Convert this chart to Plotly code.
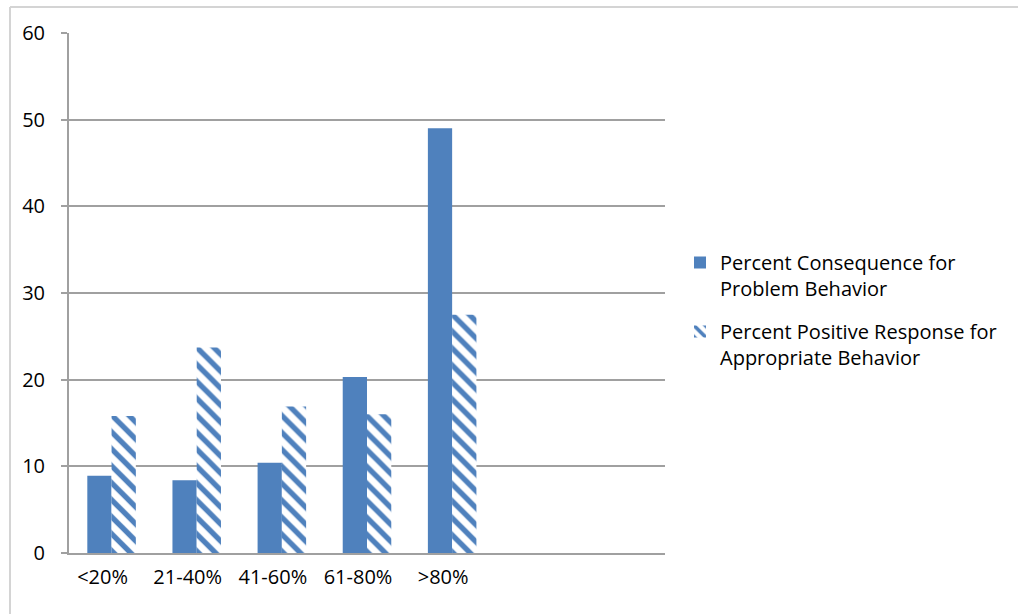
import plotly.graph_objects as go

# Share of classrooms by rate band
bands = ["<20%", "21-40%", "41-60%", "61-80%", ">80%"]
consequence = [8.9, 8.4, 10.4, 20.3, 49.0]
positive = [15.8, 23.7, 16.9, 16.0, 27.5]
y_ticks = [0, 10, 20, 30, 40, 50, 60]

BLUE = "#4F81BD"
GRID = "#A0A0A0"
FONT = "Open Sans"
FSIZE = 20

x_pos = list(range(len(bands)))

fig = go.Figure()
fig.add_trace(go.Bar(
    x=x_pos, y=consequence,
    name="Percent Consequence for<br>Problem Behavior",
    legendgroup="a",
    marker=dict(color=BLUE, line=dict(width=0)),
))
fig.add_trace(go.Bar(
    x=x_pos, y=positive,
    name="Percent Positive Response for<br>Appropriate Behavior",
    legendgroup="b",
    marker=dict(
        color="white",
        line=dict(width=0),
        pattern=dict(shape="\\", fgcolor=BLUE, bgcolor="white",
                     size=12, solidity=0.45, fillmode="replace",
                     fgopacity=1),
    ),
))

# Frame line around the chart area
W, H = 1018, 614
L, R, T, B = 69, 353, 33, 61
pw, ph = W - L - R, H - T - B

def px_x(v):
    return (v - L) / pw

def px_y(v):
    return (H - B - v) / ph

fig.add_shape(type="line", xref="paper", yref="paper",
              x0=px_x(10), x1=px_x(10), y0=px_y(7), y1=px_y(630),
              line=dict(color="#D4D4D4", width=2), layer="below")
fig.add_shape(type="line", xref="paper", yref="paper",
              x0=px_x(10), x1=px_x(1030), y0=px_y(7), y1=px_y(7),
              line=dict(color="#D4D4D4", width=2), layer="below")

fig.update_layout(
    width=W, height=H,
    margin=dict(l=L, r=R, t=T, b=B, pad=0),
    paper_bgcolor="white", plot_bgcolor="white",
    barmode="group", bargap=0.43, bargroupgap=0,
    font=dict(family=FONT, size=FSIZE, color="#000000"),
    showlegend=True,
    legend=dict(
        x=px_x(680), y=px_y(243), xanchor="left", yanchor="top",
        valign="top", traceorder="grouped", tracegroupgap=14,
        font=dict(family=FONT, size=FSIZE, color="#000000"),
        bgcolor="rgba(0,0,0,0)", itemwidth=30,
    ),
)

fig.update_xaxes(
    range=[-0.5, 6.5],
    tickmode="array", tickvals=x_pos, ticktext=bands,
    showgrid=False, zeroline=False,
    showline=True, linecolor=GRID, linewidth=2,
    ticks="", ticklabelshift=-9, ticklabelstandoff=5,
    tickfont=dict(family=FONT, size=FSIZE, color="#000000"),
)
fig.update_yaxes(
    range=[0, 60],
    tickmode="array", tickvals=y_ticks,
    showgrid=True, gridcolor=GRID, gridwidth=2,
    zeroline=False,
    showline=True, linecolor=GRID, linewidth=2,
    ticks="outside", ticklen=6, tickcolor=GRID, tickwidth=2,
    ticklabelstandoff=12,
    tickfont=dict(family=FONT, size=FSIZE, color="#000000"),
)

fig.write_html("out.html")
